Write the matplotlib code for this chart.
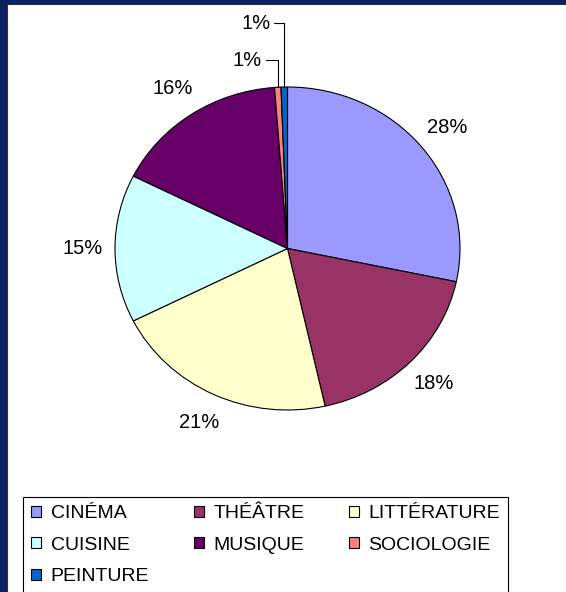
import matplotlib
matplotlib.use("Agg")
import matplotlib.pyplot as plt
from matplotlib.patches import Rectangle
import numpy as np

categories = ["CINÉMA", "THÉÂTRE", "LITTÉRATURE", "CUISINE", "MUSIQUE", "SOCIOLOGIE", "PEINTURE"]
shares = [28.3, 18.2, 21.1, 14.8, 16.4, 0.6, 0.6]
colors = ["#9999FF", "#993366", "#FFFFCC", "#CCFFFF", "#660066", "#FF8080", "#0066CC"]

plt.rcParams['font.family'] = ['Liberation Sans', 'DejaVu Sans']

W, H = 566, 592
fig = plt.figure(figsize=(W / 100, H / 100), dpi=100, facecolor="#0b2163")
fig.patches.append(Rectangle((7 / W, -0.01), 1, 1 - 4 / H + 0.01, transform=fig.transFigure,
                             facecolor="white", edgecolor="#333333", lw=0.8, zorder=-5))

# pie is slightly wider than tall in the original
cx, cy, rx, ry = 287.5, 248.5, 172.5, 161.5
ax = fig.add_axes([(cx - 1.6 * rx) / W, 1 - (cy + 1.5 * ry) / H, 3.2 * rx / W, 3.0 * ry / H])
ax.patch.set_visible(False)
wedges, texts, autotexts = ax.pie(shares, colors=colors, startangle=90, counterclock=False,
                                  autopct="%.0f%%", pctdistance=1.19,
                                  wedgeprops=dict(edgecolor="black", linewidth=0.8),
                                  textprops=dict(fontsize=14.5))
ax.set_aspect("auto")
ax.set_xlim(-1.6, 1.6)
ax.set_ylim(-1.5, 1.5)

# the two tiny slices get labels with leader lines
small_pos = {5: (-0.15, 1.167), 6: (-0.10, 1.396)}
for i, (tx, ty) in small_pos.items():
    autotexts[i].set_visible(False)
    w = wedges[i]
    mid = np.deg2rad((w.theta1 + w.theta2) / 2)
    ax.annotate(autotexts[i].get_text(), xy=(np.cos(mid), np.sin(mid)), xytext=(tx, ty),
                ha="right", va="center", fontsize=14.5,
                arrowprops=dict(arrowstyle="-", connectionstyle="angle,angleA=0,angleB=90,rad=0",
                                color="black", lw=0.8, shrinkA=1, shrinkB=0))

order = [0, 3, 6, 1, 4, 2, 5]
leg = fig.legend([wedges[i] for i in order], [categories[i] for i in order],
                 loc="upper left", bbox_to_anchor=(23 / W, 1 - 497 / H), borderaxespad=0,
                 ncol=3, fontsize=14,
                 frameon=True, fancybox=False, edgecolor="black", framealpha=1,
                 handlelength=0.5, handleheight=0.5, handletextpad=0.5,
                 columnspacing=2.3, labelspacing=0.75, borderpad=0.42)
leg.get_frame().set_linewidth(0.8)

fig.savefig("out.png", dpi=100, facecolor=fig.get_facecolor())
